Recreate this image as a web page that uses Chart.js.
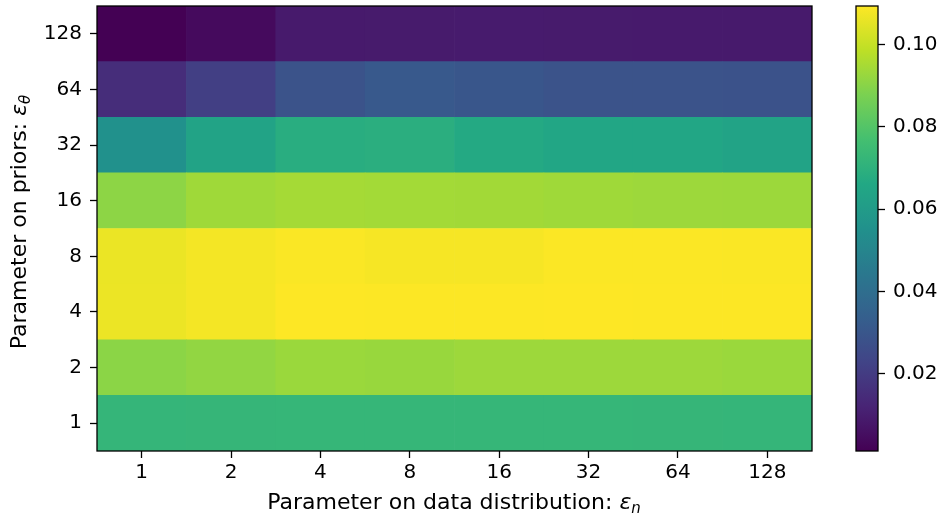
<!DOCTYPE html>
<html>
<head>
<meta charset="utf-8">
<script src="https://cdn.jsdelivr.net/npm/chart.js@4.4.1/dist/chart.umd.min.js"></script>
<style>
  html, body { margin: 0; padding: 0; background: #fff; }
  #wrap { position: relative; width: 943px; height: 518px; }
  #wrap canvas { position: absolute; left: 0; top: 0; }
</style>
</head>
<body>
<div id="wrap">
  <canvas id="heat" width="943" height="518"></canvas>
  <canvas id="cbar" width="943" height="518"></canvas>
</div>
<script>
// ── DATA ─────────────────────────────────────────────────
// columns: parameter on data distribution, rows: parameter on priors (bottom → top)
const xLabels = ['1', '2', '4', '8', '16', '32', '64', '128'];
const yLabels = ['1', '2', '4', '8', '16', '32', '64', '128'];

const prior1   = [0.0720, 0.0724, 0.0726, 0.0726, 0.0725, 0.0725, 0.0724, 0.0722];
const prior2   = [0.0905, 0.0915, 0.0929, 0.0926, 0.0933, 0.0933, 0.0933, 0.0929];
const prior4   = [0.1064, 0.1078, 0.1093, 0.1092, 0.1091, 0.1093, 0.1092, 0.1091];
const prior8   = [0.1062, 0.1077, 0.1088, 0.1081, 0.1081, 0.1090, 0.1089, 0.1088];
const prior16  = [0.0908, 0.0937, 0.0946, 0.0943, 0.0942, 0.0937, 0.0933, 0.0932];
const prior32  = [0.0553, 0.0637, 0.0683, 0.0689, 0.0666, 0.0653, 0.0653, 0.0637];
const prior64  = [0.0151, 0.0213, 0.0287, 0.0312, 0.0299, 0.0287, 0.0287, 0.0283];
const prior128 = [0.0013, 0.0041, 0.0090, 0.0092, 0.0094, 0.0092, 0.0090, 0.0090];

const rows = [prior1, prior2, prior4, prior8, prior16, prior32, prior64, prior128];

const cbTicks = [0.02, 0.04, 0.06, 0.08, 0.10];

// ── COLORMAP (viridis) ───────────────────────────────────
const VIRIDIS = [
    [68, 1, 84], [72, 36, 117], [65, 68, 135], [53, 95, 141], [42, 120, 142],
    [33, 145, 140], [34, 168, 132], [68, 191, 112], [122, 209, 81], [189, 223, 38],
    [253, 231, 37]
];

function viridis(t) {
    t = Math.max(0, Math.min(1, t));
    const pos = t * (VIRIDIS.length - 1);
    const i = Math.min(Math.floor(pos), VIRIDIS.length - 2);
    const f = pos - i;
    const a = VIRIDIS[i], b = VIRIDIS[i + 1];
    const c = a.map((v, k) => Math.round(v + (b[k] - v) * f));
    return `rgb(${c[0]},${c[1]},${c[2]})`;
}

const allValues = rows.flat();
const vmin = Math.min(...allValues);
const vmax = Math.max(...allValues);

const FONT = '"DejaVu Sans", "Liberation Sans", sans-serif';
const tickFont = { family: FONT, size: 20 };

// ── AXIS TITLES WITH SUBSCRIPTS ──────────────────────────
function drawMath(ctx, parts, cx, cy, angle) {
    ctx.save();
    ctx.translate(cx, cy);
    ctx.rotate(angle);
    ctx.fillStyle = '#000';
    ctx.textBaseline = 'alphabetic';
    const fontOf = p => `${p.italic ? 'italic ' : ''}${p.size}px ${FONT}`;
    let total = 0;
    parts.forEach(p => {
        ctx.font = fontOf(p);
        p.w = ctx.measureText(p.text).width;
        total += p.w;
    });
    let x = -total / 2;
    parts.forEach(p => {
        ctx.font = fontOf(p);
        ctx.fillText(p.text, x, p.dy || 0);
        x += p.w;
    });
    ctx.restore();
}

const framePlugin = {
    id: 'frame',
    afterDraw(chart) {
        const { ctx, chartArea: a } = chart;
        ctx.save();
        ctx.strokeStyle = '#000';
        ctx.lineWidth = 1.3;
        ctx.strokeRect(a.left, a.top, a.right - a.left, a.bottom - a.top);
        ctx.restore();
    }
};

const titlesPlugin = {
    id: 'titles',
    afterDraw(chart) {
        const ctx = chart.ctx;
        drawMath(ctx, [
            { text: 'Parameter on data distribution: ', size: 22 },
            { text: 'ε', size: 22, italic: true },
            { text: 'n', size: 15, italic: true, dy: 4 }
        ], 454, 509, 0);
        drawMath(ctx, [
            { text: 'Parameter on priors: ', size: 22 },
            { text: 'ε', size: 22, italic: true },
            { text: 'θ', size: 15, italic: true, dy: 4 }
        ], 26, 222, -Math.PI / 2);
    }
};

// keep the plot box where the reference has it
function noEdgePadding(s) {
    s.paddingTop = 0;
    s.paddingBottom = 0;
    s.paddingLeft = 0;
    s.paddingRight = 0;
}

// ── HEATMAP ──────────────────────────────────────────────
new Chart(document.getElementById('heat'), {
    type: 'bar',
    data: {
        labels: xLabels,
        datasets: rows.map((row, i) => ({
            label: yLabels[i],
            data: row.map(() => 1),
            backgroundColor: row.map(v => viridis((v - vmin) / (vmax - vmin))),
            borderWidth: 0,
            barPercentage: 1,
            categoryPercentage: 1
        }))
    },
    options: {
        responsive: false,
        animation: false,
        layout: { padding: { left: 0, top: 6, right: 131, bottom: 0 } },
        plugins: {
            legend: { display: false },
            tooltip: { enabled: false }
        },
        scales: {
            x: {
                stacked: true,
                offset: true,
                grid: {
                    drawOnChartArea: false,
                    drawTicks: true,
                    tickLength: 7,
                    tickWidth: 1.3,
                    tickColor: '#000',
                    offset: false
                },
                border: { display: false },
                ticks: { color: '#000', font: tickFont, padding: 3, maxRotation: 0, autoSkip: false },
                afterFit(s) { s.height = 67; noEdgePadding(s); }
            },
            y: {
                stacked: true,
                min: 0,
                max: rows.length,
                afterBuildTicks(s) {
                    s.ticks = yLabels.map((_, i) => ({ value: i + 0.5 }));
                },
                grid: {
                    drawOnChartArea: false,
                    drawTicks: true,
                    tickLength: 7,
                    tickWidth: 1.3,
                    tickColor: '#000'
                },
                border: { display: false },
                ticks: {
                    color: '#000',
                    font: tickFont,
                    padding: 8,
                    callback: v => yLabels[Math.floor(v)]
                },
                afterFit(s) { s.width = 97; noEdgePadding(s); }
            }
        }
    },
    plugins: [framePlugin, titlesPlugin]
});

// ── COLORBAR ─────────────────────────────────────────────
new Chart(document.getElementById('cbar'), {
    type: 'bar',
    data: {
        labels: [''],
        datasets: [{
            data: [[vmin, vmax]],
            backgroundColor(c) {
                const a = c.chart.chartArea;
                if (!a) return viridis(0.5);
                const g = c.chart.ctx.createLinearGradient(0, a.bottom, 0, a.top);
                for (let i = 0; i <= 20; i++) g.addColorStop(i / 20, viridis(i / 20));
                return g;
            },
            borderWidth: 0,
            barPercentage: 1,
            categoryPercentage: 1
        }]
    },
    options: {
        responsive: false,
        animation: false,
        layout: { padding: { left: 856, top: 6, right: 0, bottom: 67 } },
        plugins: {
            legend: { display: false },
            tooltip: { enabled: false }
        },
        scales: {
            x: { display: false },
            y: {
                position: 'right',
                min: vmin,
                max: vmax,
                afterBuildTicks(s) {
                    s.ticks = cbTicks.map(v => ({ value: v }));
                },
                grid: {
                    drawOnChartArea: false,
                    drawTicks: true,
                    tickLength: 7,
                    tickWidth: 1.3,
                    tickColor: '#000'
                },
                border: { display: false },
                ticks: {
                    color: '#000',
                    font: tickFont,
                    padding: 8,
                    callback: v => v.toFixed(2)
                },
                afterFit(s) { s.width = 65; noEdgePadding(s); }
            }
        }
    },
    plugins: [framePlugin]
});
</script>
</body>
</html>
